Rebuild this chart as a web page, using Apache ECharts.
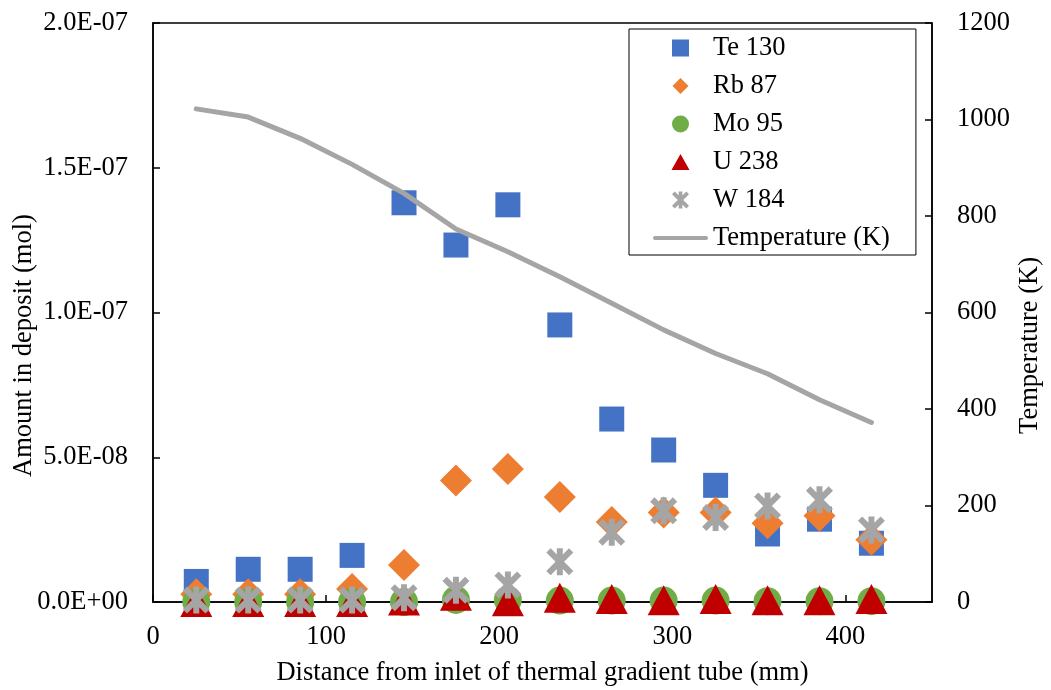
<!DOCTYPE html>
<html>
<head>
<meta charset="utf-8">
<script src="https://cdn.jsdelivr.net/npm/echarts@6/dist/echarts.min.js"></script>
<style>
  html, body { margin: 0; padding: 0; background: #fff; }
  #chart { width: 1051px; height: 690px; }
</style>
</head>
<body>
<div id="chart"></div>
<script>
// distance from inlet (mm)
var distance = [25, 55, 85, 115, 145, 175, 205, 235, 265, 295, 325, 355, 385, 415];

// amount in deposit (mol)
var te130 = [7.1e-9, 1.13e-8, 1.13e-8, 1.61e-8, 1.379e-7, 1.233e-7, 1.372e-7, 9.57e-8, 6.32e-8, 5.25e-8, 4.03e-8, 2.35e-8, 2.86e-8, 2.03e-8];
var rb87 = [2.7e-9, 2.7e-9, 2.7e-9, 4.5e-9, 1.28e-8, 4.2e-8, 4.59e-8, 3.63e-8, 2.76e-8, 3.09e-8, 3.09e-8, 2.72e-8, 2.98e-8, 2.15e-8];
var mo95 = [0, 0, 0, 0, 0, 7e-10, 7e-10, 5e-10, 5e-10, 5e-10, 5e-10, 3e-10, 3e-10, 3e-10];
var u238 = [0, 0, 0, 0, 5e-10, 2.2e-9, 3e-10, 1.5e-9, 1.0e-9, 6e-10, 1.0e-9, 6e-10, 6e-10, 1.0e-9];
var w184 = [7e-10, 7e-10, 7e-10, 7e-10, 1.5e-9, 4.1e-9, 5.9e-9, 1.39e-8, 2.41e-8, 3.15e-8, 2.92e-8, 3.32e-8, 3.53e-8, 2.49e-8];

// temperature (K)
var temperature = [1022, 1005, 961, 907, 847, 773, 726, 674, 619, 564, 515, 473, 419, 372];

var font = 'Liberation Serif, Times New Roman, serif';

// excel style star marker (x with a vertical bar)
var starPath = 'path://M0 16L16 0L100 84L84 100Z M84 0L100 16L16 100L0 84Z M39 0L61 0L61 100L39 100Z';

// legend icons: the two empty corner points pin the box to 55x17 so shapes keep their size
var box = 'M0 0L0 0Z M55 17L55 17Z ';
var legendIcons = {
  'Te 130': 'path://' + box + 'M19 0L36 0L36 17L19 17Z',
  'Rb 87': 'path://' + box + 'M27.5 0.5L35.5 8.5L27.5 16.5L19.5 8.5Z',
  'Mo 95': 'path://' + box + 'M19 8.5A8.5 8.5 0 1 1 36 8.5A8.5 8.5 0 1 1 19 8.5Z',
  'U 238': 'path://' + box + 'M27.5 0.5L36.5 16.5L18.5 16.5Z',
  'W 184': 'path://' + box + 'M19 2.7L21.7 0L36 14.3L33.3 17Z M33.3 0L36 2.7L21.7 17L19 14.3Z M25.6 0L29.4 0L29.4 17L25.6 17Z',
  'Temperature (K)': 'path://' + box + 'M2 6.5L53 6.5A2 2 0 0 1 53 10.5L2 10.5A2 2 0 0 1 2 6.5Z'
};

function pairs(ys) {
  return distance.map(function(x, i) {
    return [x, ys[i]];
  });
}

function sciLabel(v) {
  var s = Number(v).toExponential(1).split('e');
  var exp = parseInt(s[1], 10);
  var sign = exp < 0 ? '-' : '+';
  var abs = Math.abs(exp);
  return s[0] + 'E' + sign + (abs < 10 ? '0' + abs : abs);
}

var chart = echarts.init(document.getElementById('chart'));

var legendData = Object.keys(legendIcons).map(function(name) {
  return { name: name, icon: legendIcons[name] };
});

var option = {
  backgroundColor: '#fff',
  textStyle: { fontFamily: font },
  animation: false,
  grid: {
    left: 153,
    right: 119,
    top: 23,
    bottom: 88,
    outerBoundsMode: 'none',
    containLabel: false,
    show: true,
    borderColor: '#000',
    borderWidth: 1.5
  },
  legend: {
    orient: 'vertical',
    left: 629,
    top: 29,
    padding: [4, 26, 2, 24],
    itemWidth: 55,
    itemHeight: 17,
    itemGap: 8,
    borderColor: '#000',
    borderWidth: 1,
    itemStyle: { borderWidth: 0 },
    lineStyle: { width: 0 },
    textStyle: { fontFamily: font, fontSize: 26.5, color: '#000', lineHeight: 30 },
    data: legendData
  },
  xAxis: {
    type: 'value',
    min: 0,
    max: 450,
    interval: 100,
    name: 'Distance from inlet of thermal gradient tube (mm)',
    nameLocation: 'middle',
    nameGap: 58,
    nameMoveOverlap: false,
    nameTextStyle: { fontFamily: font, fontSize: 26.5, color: '#000' },
    axisLine: { onZero: false, lineStyle: { color: '#000', width: 1.5 } },
    axisTick: { inside: true, length: 7, lineStyle: { color: '#000', width: 1.5 } },
    axisLabel: { fontFamily: font, fontSize: 26.5, color: '#000', margin: 22, showMaxLabel: false },
    splitLine: { show: false }
  },
  yAxis: [
    {
      type: 'value',
      min: 0,
      max: 2e-7,
      interval: 5e-8,
      name: 'Amount in deposit (mol)',
      nameLocation: 'middle',
      nameRotate: 90,
      nameGap: 115,
      nameMoveOverlap: false,
      nameTextStyle: { fontFamily: font, fontSize: 26.5, color: '#000', padding: [0, 66, 0, 0] },
      axisLine: { show: true, lineStyle: { color: '#000', width: 1.5 } },
      axisTick: { show: true, inside: true, length: 7, lineStyle: { color: '#000', width: 1.5 } },
      axisLabel: { fontFamily: font, fontSize: 26.5, color: '#000', margin: 25, formatter: sciLabel },
      splitLine: { show: false }
    },
    {
      type: 'value',
      min: 0,
      max: 1200,
      interval: 200,
      position: 'right',
      name: 'Temperature (K)',
      nameLocation: 'middle',
      nameRotate: 90,
      nameGap: 85,
      nameMoveOverlap: false,
      nameTextStyle: { fontFamily: font, fontSize: 26.5, color: '#000', padding: [0, 66, 0, 0] },
      axisLine: { show: true, lineStyle: { color: '#000', width: 1.5 } },
      axisTick: { show: true, inside: true, length: 7, lineStyle: { color: '#000', width: 1.5 } },
      axisLabel: {
        fontFamily: font,
        fontSize: 26.5,
        color: '#000',
        margin: 25,
        formatter: function(v) {
          return String(v);
        }
      },
      splitLine: { show: false }
    }
  ],
  series: [
    {
      name: 'Te 130',
      type: 'scatter',
      symbol: 'rect',
      symbolSize: 25,
      itemStyle: { color: '#4472C4', opacity: 1 },
      data: pairs(te130)
    },
    {
      name: 'Rb 87',
      type: 'scatter',
      symbol: 'diamond',
      symbolSize: [32, 32],
      itemStyle: { color: '#ED7D31', opacity: 1 },
      data: pairs(rb87)
    },
    {
      name: 'Mo 95',
      type: 'scatter',
      symbol: 'circle',
      symbolSize: 28,
      itemStyle: { color: '#70AD47', opacity: 1 },
      data: pairs(mo95)
    },
    {
      name: 'U 238',
      type: 'scatter',
      symbol: 'triangle',
      symbolSize: [32, 30],
      itemStyle: { color: '#C00000', opacity: 1 },
      data: pairs(u238)
    },
    {
      name: 'W 184',
      type: 'scatter',
      symbol: starPath,
      symbolSize: 27,
      itemStyle: { color: '#A5A5A5', opacity: 1 },
      data: pairs(w184)
    },
    {
      name: 'Temperature (K)',
      type: 'line',
      yAxisIndex: 1,
      showSymbol: false,
      symbol: 'none',
      lineStyle: { color: '#A5A5A5', width: 5, cap: 'round', join: 'round' },
      itemStyle: { color: '#A5A5A5' },
      data: pairs(temperature)
    }
  ]
};

chart.setOption(option);
</script>
</body>
</html>
